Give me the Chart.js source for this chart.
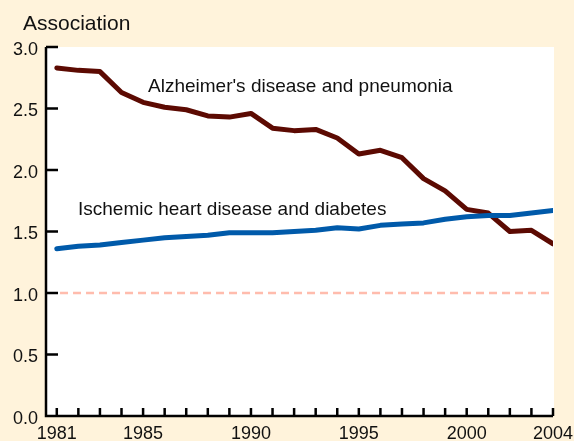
<!DOCTYPE html>
<html>
<head>
<meta charset="utf-8">
<script src="https://cdn.jsdelivr.net/npm/chart.js@4.4.1/dist/chart.umd.min.js"></script>
<style>
html,body{margin:0;padding:0;background:#FFF3DB;}
canvas{display:block;}
</style>
</head>
<body>
<canvas id="c" width="574" height="441"></canvas>
<script>
const years = [1981,1982,1983,1984,1985,1986,1987,1988,1989,1990,1991,1992,1993,1994,1995,1996,1997,1998,1999,2000,2001,2002,2003,2004];
const alzheimerPneumonia = [2.83,2.81,2.80,2.63,2.55,2.51,2.49,2.44,2.43,2.46,2.34,2.32,2.33,2.26,2.13,2.16,2.10,1.93,1.83,1.68,1.65,1.50,1.51,1.40];
const ischemicDiabetes = [1.36,1.38,1.39,1.41,1.43,1.45,1.46,1.47,1.49,1.49,1.49,1.50,1.51,1.53,1.52,1.55,1.56,1.57,1.60,1.62,1.63,1.63,1.65,1.67];
const xLabelYears = [1981,1985,1990,1995,2000,2004];
const yTicks = [0,0.5,1.0,1.5,2.0,2.5,3.0];
const referenceLevel = 1.0;
const seriesNames = ["Alzheimer's disease and pneumonia","Ischemic heart disease and diabetes"];
const axisTitle = "Association";

const FONT = "'Liberation Sans', Arial, sans-serif";

const toPts = (vals) => years.map((y,i)=>({x:y,y:vals[i]}));

const decor = {
  id:'decor',
  beforeDraw(chart){
    const {ctx, chartArea:a} = chart;
    ctx.save();
    ctx.fillStyle = '#FFF3DB';
    ctx.fillRect(0,0,chart.width,chart.height);
    ctx.fillStyle = '#FFFFFF';
    ctx.fillRect(a.left, a.top, a.right - a.left + 1, a.bottom - a.top);
    ctx.restore();
  },
  afterDraw(chart){
    const {ctx, chartArea:a, scales} = chart;
    const xs = scales.x, ys = scales.y;
    ctx.save();
    ctx.strokeStyle = '#000';
    ctx.lineWidth = 2.5;
    ctx.beginPath();
    // axes
    ctx.moveTo(a.left, ys.getPixelForValue(3.0));
    ctx.lineTo(a.left, a.bottom);
    ctx.lineTo(xs.getPixelForValue(2004), a.bottom);
    // y ticks (inner)
    yTicks.forEach(v=>{
      const p = ys.getPixelForValue(v);
      ctx.moveTo(a.left, p); ctx.lineTo(a.left+12, p);
    });
    // x ticks (inner)
    years.forEach(v=>{
      const p = xs.getPixelForValue(v);
      ctx.moveTo(p, a.bottom); ctx.lineTo(p, a.bottom-8);
    });
    ctx.stroke();
    // series labels
    ctx.fillStyle = '#111';
    ctx.font = '19px ' + FONT;
    ctx.textBaseline = 'middle';
    ctx.textAlign = 'left';
    ctx.fillText(seriesNames[0], 148, 87);
    ctx.fillText(seriesNames[1], 78, 210);
    // axis title
    ctx.font = '21px ' + FONT;
    ctx.fillText(axisTitle, 23, 24);
    ctx.restore();
  }
};

new Chart(document.getElementById('c'), {
  type:'line',
  data:{
    datasets:[
      {
        label:'ref',
        data:[{x:1981.15,y:referenceLevel},{x:2004,y:referenceLevel}],
        borderColor:'#FFBCAD',
        borderWidth:2.5,
        borderDash:[8,5],
        pointRadius:0,
        order:3
      },
      {
        label:seriesNames[0],
        data:toPts(alzheimerPneumonia),
        borderColor:'#5C0A02',
        borderWidth:5,
        pointRadius:0,
        tension:0,
        borderCapStyle:'round',
        borderJoinStyle:'round',
        order:2
      },
      {
        label:seriesNames[1],
        data:toPts(ischemicDiabetes),
        borderColor:'#005AAA',
        borderWidth:5,
        pointRadius:0,
        tension:0,
        borderCapStyle:'round',
        borderJoinStyle:'round',
        order:1
      }
    ]
  },
  options:{
    responsive:false,
    animation:false,
    devicePixelRatio:1,
    layout:{padding:{left:0,top:47,right:21,bottom:0}},
    plugins:{legend:{display:false},tooltip:{enabled:false}},
    scales:{
      x:{
        type:'linear',
        min:1980.5,
        max:2004,
        grid:{display:false,drawTicks:false},
        border:{display:false},
        afterBuildTicks(s){ s.ticks = years.map(v=>({value:v})); },
        afterFit(s){ s.height = 25; s.paddingLeft = 0; s.paddingRight = 0; },
        ticks:{
          autoSkip:false,
          maxRotation:0,
          padding:7,
          color:'#111',
          font:{family:FONT,size:18},
          callback:(v)=> xLabelYears.includes(v) ? String(v) : ''
        }
      },
      y:{
        min:0,
        max:3,
        grid:{display:false,drawTicks:false},
        border:{display:false},
        afterBuildTicks(s){ s.ticks = yTicks.map(v=>({value:v})); },
        afterFit(s){ s.width = 46; s.paddingTop = 0; s.paddingBottom = 0; },
        ticks:{
          padding:8,
          labelOffset:3,
          color:'#111',
          font:{family:FONT,size:18},
          callback:(v)=> v.toFixed(1)
        }
      }
    }
  },
  plugins:[decor]
});
</script>
</body>
</html>
